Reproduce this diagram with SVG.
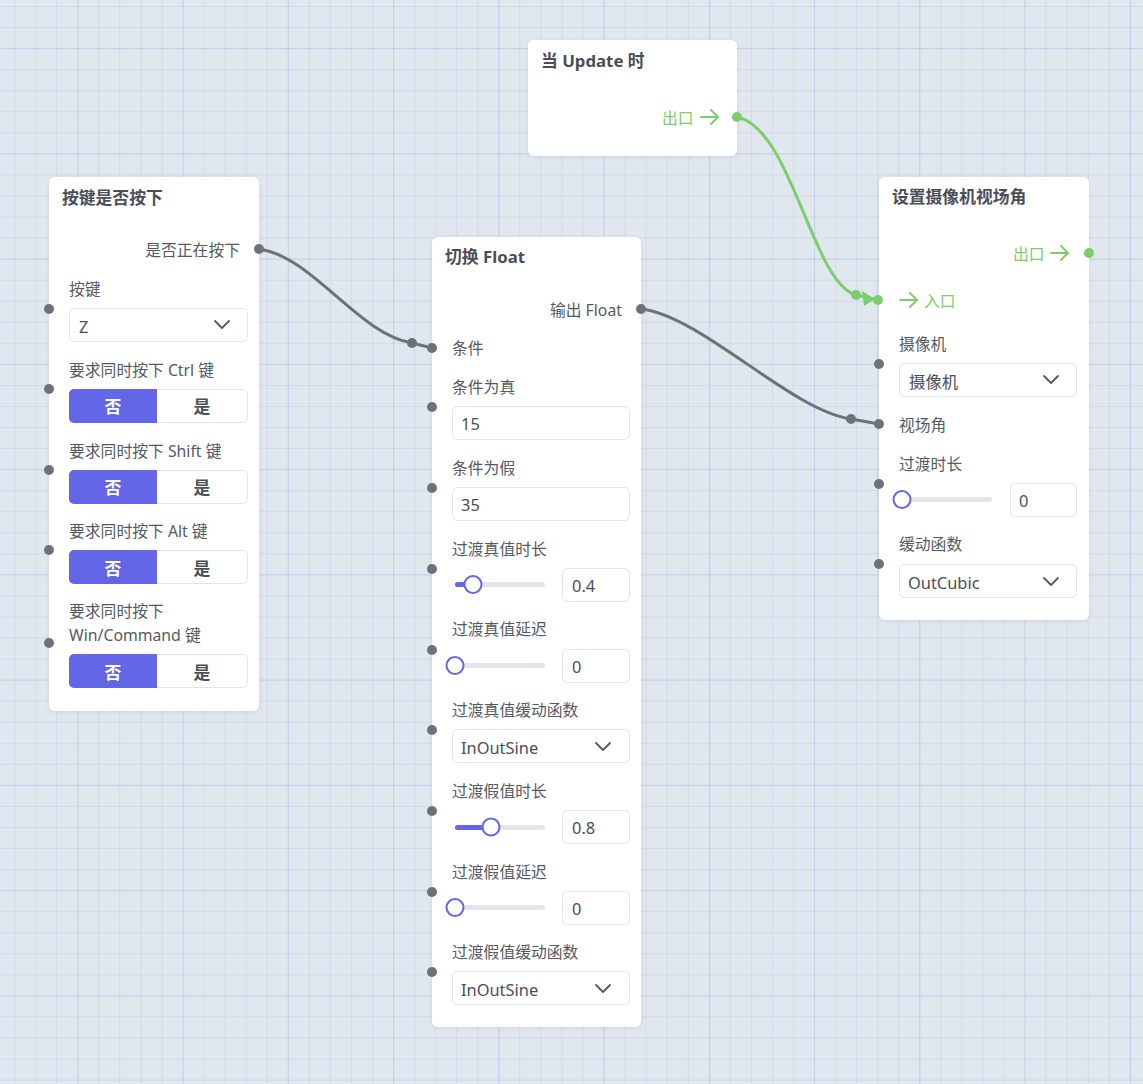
<svg xmlns="http://www.w3.org/2000/svg" width="1143" height="1084" viewBox="0 0 1143 1084">
<style>
text{font-family:"Noto Sans","Noto Sans CJK SC",sans-serif;dominant-baseline:central}
.title{font-size:16.8px;font-weight:700;fill:#4a4e57}
.lbl{font-size:15.8px;fill:#555a62}
.val{font-size:16.4px;fill:#4a4e57}
.tg{font-size:16.8px;font-weight:700;text-anchor:middle}
.card{fill:#fff;filter:url(#sh)}
.box{fill:#fff;stroke:#e2e4e9;stroke-width:1}
.port{fill:#6d727a}
.gport{fill:#7dcd6b}
.chev{fill:none;stroke:#555a62;stroke-width:1.8;stroke-linecap:round;stroke-linejoin:round}
.garr{fill:none;stroke:#7dcd6b;stroke-width:2;stroke-linecap:round;stroke-linejoin:round}
.gtxt{font-size:15.8px;fill:#7dcd6b}
.track{fill:#e3e5ea}
.fill{fill:#6366e6}
.thumb{fill:#fff;stroke:#6366e6;stroke-width:2}
.wire{fill:none;stroke:#6d727a;stroke-width:3}
.gwire{fill:none;stroke:#7dcd6b;stroke-width:3}
</style>
<defs>
<pattern id="minor" patternUnits="userSpaceOnUse" x="14.1" y="6" width="21.05" height="21.05">
<rect x="0" y="0" width="1" height="21.05" fill="#6c7ee0" fill-opacity="0.12"/>
<rect x="0" y="0" width="21.05" height="1" fill="#6c7ee0" fill-opacity="0.12"/>
</pattern>
<pattern id="major" patternUnits="userSpaceOnUse" x="77.25" y="48.1" width="105.25" height="105.25">
<rect x="0" y="0" width="1.2" height="105.25" fill="#6c7ee0" fill-opacity="0.12"/>
<rect x="0" y="0" width="105.25" height="1.2" fill="#6c7ee0" fill-opacity="0.12"/>
</pattern>
<filter id="sh" x="-10%" y="-10%" width="120%" height="120%">
<feDropShadow dx="0" dy="1" stdDeviation="2" flood-color="#000" flood-opacity="0.08"/>
</filter>
</defs>
<rect width="1143" height="1084" fill="#e0e7ef"/>
<rect width="1143" height="1084" fill="url(#minor)"/>
<rect width="1143" height="1084" fill="url(#major)"/>

<g id="connectors">
<path class="wire" d="M259 249 C312 256 358 334 412 343 L432 348"/>
<circle class="port" cx="412" cy="343" r="5"/>
<path class="wire" d="M641 309 C702 316 790 410 851 419 L879 424"/>
<circle class="port" cx="851" cy="419" r="5"/>
<path class="gwire" d="M737 117 C792 128 812 283 856 295 L878 300"/>
<circle class="gport" cx="856" cy="295" r="5"/>
<path d="M862 291 L875 299 L864 306 Z" fill="#7dcd6b"/>
</g>

<g id="node-key">
<rect class="card" x="49" y="177" width="210" height="534" rx="6"/>
<text class="title" x="62" y="197">按键是否按下</text>
<text class="lbl" x="240" y="250" text-anchor="end">是否正在按下</text>
<circle class="port" cx="259" cy="249" r="5"/>
<text class="lbl" x="69" y="289">按键</text>
<circle class="port" cx="49" cy="309" r="5"/>
<rect class="box" x="69.5" y="308.5" width="178" height="33" rx="5"/>
<text class="val" x="79" y="326">Z</text>
<polyline class="chev" points="215,321 222,328 229,321"/>
<text class="lbl" x="69" y="370">要求同时按下 Ctrl 键</text>
<circle class="port" cx="49" cy="389" r="5"/>
<rect class="box" x="69.5" y="389.5" width="178" height="33" rx="5"/>
<path class="fill" d="M157 389 V423 H74 A5 5 0 0 1 69 418 V394 A5 5 0 0 1 74 389 Z"/>
<text class="tg" x="113" y="406" fill="#fff">否</text>
<text class="tg" x="202" y="406" fill="#4a4e57">是</text>
<text class="lbl" x="69" y="451">要求同时按下 Shift 键</text>
<circle class="port" cx="49" cy="470" r="5"/>
<rect class="box" x="69.5" y="470.5" width="178" height="33" rx="5"/>
<path class="fill" d="M157 470 V504 H74 A5 5 0 0 1 69 499 V475 A5 5 0 0 1 74 470 Z"/>
<text class="tg" x="113" y="487" fill="#fff">否</text>
<text class="tg" x="202" y="487" fill="#4a4e57">是</text>
<text class="lbl" x="69" y="531">要求同时按下 Alt 键</text>
<circle class="port" cx="49" cy="550" r="5"/>
<rect class="box" x="69.5" y="550.5" width="178" height="33" rx="5"/>
<path class="fill" d="M157 550 V584 H74 A5 5 0 0 1 69 579 V555 A5 5 0 0 1 74 550 Z"/>
<text class="tg" x="113" y="568" fill="#fff">否</text>
<text class="tg" x="202" y="568" fill="#4a4e57">是</text>
<text class="lbl" x="69" y="611">要求同时按下</text>
<text class="lbl" x="69" y="635">Win/Command 键</text>
<circle class="port" cx="49" cy="643" r="5"/>
<rect class="box" x="69.5" y="654.5" width="178" height="33" rx="5"/>
<path class="fill" d="M157 654 V688 H74 A5 5 0 0 1 69 683 V659 A5 5 0 0 1 74 654 Z"/>
<text class="tg" x="113" y="672" fill="#fff">否</text>
<text class="tg" x="202" y="672" fill="#4a4e57">是</text>
</g>

<g id="node-update">
<rect class="card" x="528" y="40" width="209" height="116" rx="6"/>
<text class="title" x="541" y="60">当 Update 时</text>
<text class="gtxt" x="662" y="118">出口</text>
<path class="garr" d="M701 117 H717 M711 110 L718 117 L711 124"/>
<circle class="gport" cx="737" cy="117" r="5"/>
</g>

<g id="node-float">
<rect class="card" x="432" y="237" width="209" height="790" rx="6"/>
<text class="title" x="445" y="256">切换 Float</text>
<text class="lbl" x="622" y="310" text-anchor="end">输出 Float</text>
<circle class="port" cx="641" cy="309" r="5"/>
<text class="lbl" x="452" y="348">条件</text>
<circle class="port" cx="432" cy="348" r="5"/>
<text class="lbl" x="452" y="387">条件为真</text>
<circle class="port" cx="432" cy="407" r="5"/>
<rect class="box" x="452.5" y="406.5" width="177" height="33" rx="5"/>
<text class="val" x="461" y="423">15</text>
<text class="lbl" x="452" y="468">条件为假</text>
<circle class="port" cx="432" cy="488" r="5"/>
<rect class="box" x="452.5" y="487.5" width="177" height="33" rx="5"/>
<text class="val" x="461" y="504">35</text>
<text class="lbl" x="452" y="549">过渡真值时长</text>
<circle class="port" cx="432" cy="569" r="5"/>
<rect class="track" x="455" y="582" width="90" height="5" rx="2.5"/>
<rect class="fill" x="455" y="582" width="18" height="5" rx="2.5"/>
<circle class="thumb" cx="473" cy="584.5" r="8.5"/>
<rect class="box" x="562.5" y="568.5" width="67" height="33" rx="5"/>
<text class="val" x="572" y="585">0.4</text>
<text class="lbl" x="452" y="629">过渡真值延迟</text>
<circle class="port" cx="432" cy="650" r="5"/>
<rect class="track" x="455" y="663" width="90" height="5" rx="2.5"/>
<circle class="thumb" cx="455" cy="665.5" r="8.5"/>
<rect class="box" x="562.5" y="649.5" width="67" height="33" rx="5"/>
<text class="val" x="572" y="666">0</text>
<text class="lbl" x="452" y="710">过渡真值缓动函数</text>
<circle class="port" cx="432" cy="730" r="5"/>
<rect class="box" x="452.5" y="729.5" width="177" height="33" rx="5"/>
<text class="val" x="461" y="747">InOutSine</text>
<polyline class="chev" points="596,743 603,750 610,743"/>
<text class="lbl" x="452" y="791">过渡假值时长</text>
<circle class="port" cx="432" cy="811" r="5"/>
<rect class="track" x="455" y="825" width="90" height="5" rx="2.5"/>
<rect class="fill" x="455" y="825" width="36" height="5" rx="2.5"/>
<circle class="thumb" cx="491" cy="827" r="8.5"/>
<rect class="box" x="562.5" y="810.5" width="67" height="33" rx="5"/>
<text class="val" x="572" y="827">0.8</text>
<text class="lbl" x="452" y="872">过渡假值延迟</text>
<circle class="port" cx="432" cy="892" r="5"/>
<rect class="track" x="455" y="905" width="90" height="5" rx="2.5"/>
<circle class="thumb" cx="455" cy="907.5" r="8.5"/>
<rect class="box" x="562.5" y="891.5" width="67" height="33" rx="5"/>
<text class="val" x="572" y="908">0</text>
<text class="lbl" x="452" y="952">过渡假值缓动函数</text>
<circle class="port" cx="432" cy="972" r="5"/>
<rect class="box" x="452.5" y="971.5" width="177" height="33" rx="5"/>
<text class="val" x="461" y="989">InOutSine</text>
<polyline class="chev" points="596,985 603,992 610,985"/>
</g>

<g id="node-camera">
<rect class="card" x="879" y="177" width="210" height="443" rx="6"/>
<text class="title" x="892" y="196">设置摄像机视场角</text>
<text class="gtxt" x="1013" y="254">出口</text>
<path class="garr" d="M1051 253 H1067 M1061 246 L1068 253 L1061 260"/>
<circle class="gport" cx="1089" cy="253" r="5"/>
<circle class="gport" cx="878" cy="300" r="5"/>
<path class="garr" d="M900 300 H916 M910 293 L917 300 L910 307"/>
<text class="gtxt" x="924" y="301">入口</text>
<text class="lbl" x="899" y="344">摄像机</text>
<circle class="port" cx="879" cy="364" r="5"/>
<rect class="box" x="899.5" y="363.5" width="177" height="33" rx="5"/>
<text class="val" x="909" y="381">摄像机</text>
<polyline class="chev" points="1044,376 1051,383 1058,376"/>
<text class="lbl" x="899" y="425">视场角</text>
<circle class="port" cx="879" cy="424" r="5"/>
<text class="lbl" x="899" y="464">过渡时长</text>
<circle class="port" cx="879" cy="484" r="5"/>
<rect class="track" x="902" y="497" width="90" height="5" rx="2.5"/>
<circle class="thumb" cx="902" cy="499.5" r="8.5"/>
<rect class="box" x="1010.5" y="483.5" width="66" height="33" rx="5"/>
<text class="val" x="1019" y="500">0</text>
<text class="lbl" x="899" y="544">缓动函数</text>
<circle class="port" cx="879" cy="564" r="5"/>
<rect class="box" x="899.5" y="564.5" width="177" height="33" rx="5"/>
<text class="val" x="908" y="582">OutCubic</text>
<polyline class="chev" points="1044,578 1051,585 1058,578"/>
</g>
</svg>
